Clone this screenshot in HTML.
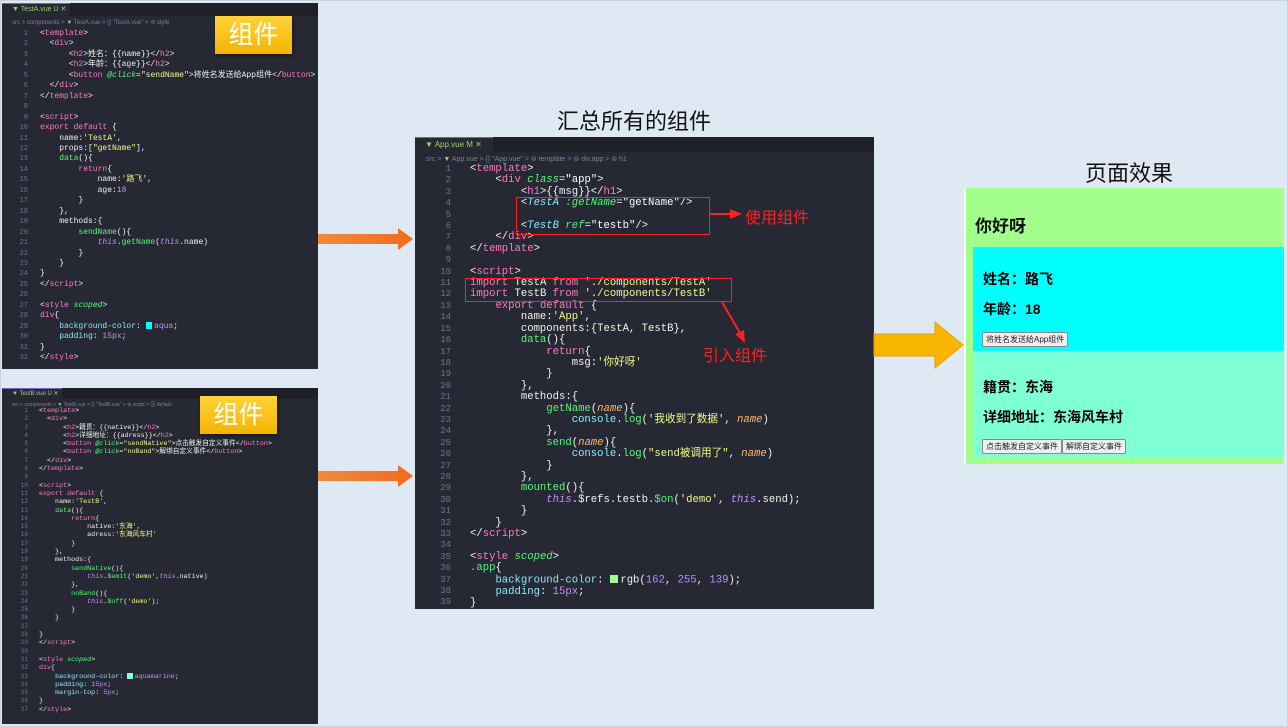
<!DOCTYPE html>
<html><head><meta charset="utf-8"><style>
body{margin:0;width:1288px;height:727px;overflow:hidden;background:#dfe9f4;font-family:"Liberation Sans","Noto Sans CJK SC",sans-serif;position:relative}
.frame{position:absolute;left:0;top:0;width:1286px;height:725px;border:1px solid #c8d4e0}
.panel{position:absolute;background:#262833;overflow:hidden}
.tabbar{position:absolute;left:0;top:0;right:0;background:#1e1f27}
.tab{position:absolute;left:0;top:0;background:#262833;color:#9ecf6b;border-top:1px solid #7a5fd0}
.crumb{position:absolute;color:#7c8199;white-space:pre}
pre{position:absolute;margin:0;font-family:"Liberation Mono","Noto Sans CJK SC",monospace;color:#f2f2ec;white-space:pre}
.ln{color:#6f7590;text-align:right}
.t{color:#ff79c6}.k{color:#ff79c6}.s{color:#f1fa8c}.f{color:#50fa7b}.a{color:#50fa7b;font-style:italic}.i{color:#bd93f9;font-style:italic}.n{color:#bd93f9}.p{color:#8be9fd}.c{color:#8be9fd;font-style:italic}
.badge{position:absolute;width:77px;height:38px;background:linear-gradient(#ffd33a,#f4b400);color:#fff;font-size:25px;text-align:center;line-height:38px;box-shadow:1px 2px 3px rgba(0,0,0,.4)}
.sw{display:inline-block;width:.8em;height:.8em;vertical-align:-1px;margin-right:2px}
.title{position:absolute;font-size:22px;color:#111}
.rbox{position:absolute;border:1.5px solid #ff2020}
.rtxt{position:absolute;color:#ff2020;font-size:16px}
.btn{display:inline-block;font-size:8px;border:1px solid #888;background:#efefef;padding:1px 3px;color:#222;border-radius:2px}
</style></head><body>
<div class="frame"></div>

<!-- Panel A -->
<div class="panel" style="left:2px;top:3px;width:316px;height:366px">
 <div class="tabbar" style="height:13px"></div>
 <div class="tab" style="width:58px;height:12px;font-size:7px;line-height:12px;padding-left:10px">▼ TestA.vue U ✕</div>
 <div class="crumb" style="left:10px;top:16px;font-size:6px">src &gt; components &gt; <span style="color:#9ecf6b">▼</span> TestA.vue &gt; {} "TestA.vue" &gt; ⊜ style</div>
<pre class="ln" style="left:4px;top:26px;width:22px;font-size:7px;line-height:10.45px">1
2
3
4
5
6
7
8
9
10
11
12
13
14
15
16
17
18
19
20
21
22
23
24
25
26
27
28
29
30
31
32</pre>
<pre style="left:38px;top:26px;font-size:8px;line-height:10.45px">&lt;<span class="t">template</span>&gt;
  &lt;<span class="t">div</span>&gt;
      &lt;<span class="t">h2</span>&gt;姓名：{{name}}&lt;/<span class="t">h2</span>&gt;
      &lt;<span class="t">h2</span>&gt;年龄：{{age}}&lt;/<span class="t">h2</span>&gt;
      &lt;<span class="t">button</span> <span class="a">@click</span>=<span class="s">"sendName"</span>&gt;将姓名发送给App组件&lt;/<span class="t">button</span>&gt;
  &lt;/<span class="t">div</span>&gt;
&lt;/<span class="t">template</span>&gt;

&lt;<span class="t">script</span>&gt;
<span class="k">export default</span> {
    name:<span class="s">'TestA'</span>,
    props:[<span class="s">"getName"</span>],
    <span class="f">data</span>(){
        <span class="k">return</span>{
            name:<span class="s">'路飞'</span>,
            age:<span class="n">18</span>
        }
    },
    methods:{
        <span class="f">sendName</span>(){
            <span class="i">this</span>.<span class="f">getName</span>(<span class="i">this</span>.name)
        }
    }
}
&lt;/<span class="t">script</span>&gt;

&lt;<span class="t">style</span> <span class="a">scoped</span>&gt;
<span class="t">div</span>{
    <span class="p">background-color</span>: <span class="sw" style="background:aqua"></span><span class="n">aqua</span>;
    <span class="p">padding</span>: <span class="n">15px</span>;
}
&lt;/<span class="t">style</span>&gt;</pre>
</div>
<div class="badge" style="left:215px;top:16px">组件</div>

<!-- Panel B -->
<div class="panel" style="left:2px;top:388px;width:316px;height:336px">
 <div class="tabbar" style="height:11px"></div>
 <div class="tab" style="width:50px;height:10px;font-size:6px;line-height:10px;padding-left:10px">▼ TestB.vue U ✕</div>
 <div class="crumb" style="left:10px;top:13px;font-size:5px">src &gt; components &gt; <span style="color:#9ecf6b">▼</span> TestB.vue &gt; {} "TestB.vue" &gt; ⊜ script &gt; ⊠ default</div>
<pre class="ln" style="left:4px;top:19px;width:22px;font-size:6px;line-height:8.3px">1
2
3
4
5
6
7
8
9
10
11
12
13
14
15
16
17
18
19
20
21
22
23
24
25
26
27
28
29
30
31
32
33
34
35
36
37</pre>
<pre style="left:37px;top:19px;font-size:6.7px;line-height:8.3px">&lt;<span class="t">template</span>&gt;
  &lt;<span class="t">div</span>&gt;
      &lt;<span class="t">h2</span>&gt;籍贯：{{native}}&lt;/<span class="t">h2</span>&gt;
      &lt;<span class="t">h2</span>&gt;详细地址：{{adress}}&lt;/<span class="t">h2</span>&gt;
      &lt;<span class="t">button</span> <span class="a">@click</span>=<span class="s">"sendNative"</span>&gt;点击触发自定义事件&lt;/<span class="t">button</span>&gt;
      &lt;<span class="t">button</span> <span class="a">@click</span>=<span class="s">"noBand"</span>&gt;解绑自定义事件&lt;/<span class="t">button</span>&gt;
  &lt;/<span class="t">div</span>&gt;
&lt;/<span class="t">template</span>&gt;

&lt;<span class="t">script</span>&gt;
<span class="k">export default</span> {
    name:<span class="s">'TestB'</span>,
    <span class="f">data</span>(){
        <span class="k">return</span>{
            native:<span class="s">'东海'</span>,
            adress:<span class="s">'东海风车村'</span>
        }
    },
    methods:{
        <span class="f">sendNative</span>(){
            <span class="i">this</span>.<span class="f">$emit</span>(<span class="s">'demo'</span>,<span class="i">this</span>.native)
        },
        <span class="f">noBand</span>(){
            <span class="i">this</span>.<span class="f">$off</span>(<span class="s">'demo'</span>);
        }
    }

}
&lt;/<span class="t">script</span>&gt;

&lt;<span class="t">style</span> <span class="a">scoped</span>&gt;
<span class="t">div</span>{
    <span class="p">background-color</span>: <span class="sw" style="background:aquamarine"></span><span class="n">aquamarine</span>;
    <span class="p">padding</span>: <span class="n">15px</span>;
    <span class="p">margin-top</span>: <span class="n">5px</span>;
}
&lt;/<span class="t">style</span>&gt;</pre>
</div>
<div class="badge" style="left:200px;top:396px">组件</div>

<div class="title" style="left:557px;top:104px">汇总所有的组件</div>

<!-- Center panel -->
<div class="panel" style="left:415px;top:137px;width:459px;height:472px">
 <div class="tabbar" style="height:15px"></div>
 <div class="tab" style="width:68px;height:14px;font-size:8px;line-height:14px;padding-left:10px">▼ App.vue M ✕</div>
 <div class="crumb" style="left:11px;top:18px;font-size:7px">src &gt; <span style="color:#9ecf6b">▼</span> App.vue &gt; {} "App.vue" &gt; ⊜ template &gt; ⊜ div.app &gt; ⊜ h1</div>
<pre class="ln" style="left:14px;top:27px;width:22px;font-size:9px;line-height:11.4px">1
2
3
4
5
6
7
8
9
10
11
12
13
14
15
16
17
18
19
20
21
22
23
24
25
26
27
28
29
30
31
32
33
34
35
36
37
38
39</pre>
<pre style="left:55px;top:27px;font-size:10.6px;line-height:11.4px">&lt;<span class="t">template</span>&gt;
    &lt;<span class="t">div</span> <span class="a">class</span>=<span style="color:#fff">"app"</span>&gt;
        &lt;<span class="t">h1</span>&gt;{{msg}}&lt;/<span class="t">h1</span>&gt;
        &lt;<span class="c">TestA</span> <span class="a">:getName</span>=<span style="color:#fff">"getName"</span>/&gt;

        &lt;<span class="c">TestB</span> <span class="a">ref</span>=<span style="color:#fff">"testb"</span>/&gt;
    &lt;/<span class="t">div</span>&gt;
&lt;/<span class="t">template</span>&gt;

&lt;<span class="t">script</span>&gt;
<span class="k">import</span> TestA <span class="k">from</span> <span class="s">'./components/TestA'</span>
<span class="k">import</span> TestB <span class="k">from</span> <span class="s">'./components/TestB'</span>
    <span class="k">export default</span> {
        name:<span class="s">'App'</span>,
        components:{TestA, TestB},
        <span class="f">data</span>(){
            <span class="k">return</span>{
                msg:<span class="s">'你好呀'</span>
            }
        },
        methods:{
            <span class="f">getName</span>(<span class="i" style="color:#ffb86c">name</span>){
                <span class="p">console</span>.<span class="f">log</span>(<span class="s">'我收到了数据'</span>, <span class="i" style="color:#ffb86c">name</span>)
            },
            <span class="f">send</span>(<span class="i" style="color:#ffb86c">name</span>){
                <span class="p">console</span>.<span class="f">log</span>(<span class="s">"send被调用了"</span>, <span class="i" style="color:#ffb86c">name</span>)
            }
        },
        <span class="f">mounted</span>(){
            <span class="i">this</span>.$refs.testb.<span class="f">$on</span>(<span class="s">'demo'</span>, <span class="i">this</span>.send);
        }
    }
&lt;/<span class="t">script</span>&gt;

&lt;<span class="t">style</span> <span class="a">scoped</span>&gt;
<span class="f">.app</span>{
    <span class="p">background-color</span>: <span class="sw" style="background:rgb(162,255,139)"></span>rgb(<span class="n">162</span>, <span class="n">255</span>, <span class="n">139</span>);
    <span class="p">padding</span>: <span class="n">15px</span>;
}</pre>
</div>
<div class="rbox" style="left:516px;top:197px;width:192px;height:36px"></div>
<div class="rbox" style="left:465px;top:278px;width:265px;height:22px"></div>
<div class="rtxt" style="left:745px;top:204px">使用组件</div>
<div class="rtxt" style="left:703px;top:342px">引入组件</div>

<div class="title" style="left:1085px;top:156px">页面效果</div>

<!-- Result -->
<div style="position:absolute;left:964px;top:188px;width:320px;height:276px;background:#a3ff8b;border-left:2px solid #fff;box-sizing:border-box">
 <div style="position:absolute;left:9px;top:24px;font-size:17px;font-weight:bold;color:#111">你好呀</div>
 <div style="position:absolute;left:7px;top:59px;right:0;height:104px;background:aqua">
  <div style="position:absolute;left:10px;top:22px;font-size:14px;font-weight:bold">姓名：路飞</div>
  <div style="position:absolute;left:10px;top:52px;font-size:14px;font-weight:bold">年龄：18</div>
  <div style="position:absolute;left:9px;top:82px"><span class="btn">将姓名发送给App组件</span></div>
 </div>
 <div style="position:absolute;left:7px;top:164px;right:0;height:105px;background:aquamarine">
  <div style="position:absolute;left:10px;top:25px;font-size:14px;font-weight:bold">籍贯：东海</div>
  <div style="position:absolute;left:10px;top:55px;font-size:14px;font-weight:bold">详细地址：东海风车村</div>
  <div style="position:absolute;left:9px;top:84px"><span class="btn">点击触发自定义事件</span><span class="btn">解绑自定义事件</span></div>
 </div>
</div>

<!-- arrows (on top) -->
<svg style="position:absolute;left:0;top:0" width="1288" height="727">
 <defs><linearGradient id="og" x1="0" x2="1"><stop offset="0" stop-color="#f08a3c"/><stop offset="1" stop-color="#f26b1d"/></linearGradient></defs>
 <polygon points="318,234 398,234 398,228 413,239 398,250 398,244 318,244" fill="url(#og)"/>
 <polygon points="318,471 398,471 398,465 413,476 398,487 398,481 318,481" fill="url(#og)"/>
 <polygon points="874,334 935,334 935,322 963,345 935,368 935,356 874,356" fill="#f8b600" stroke="#e0a000"/>
 <line x1="709" y1="214" x2="732" y2="214" stroke="#ff2020" stroke-width="2"/>
 <polygon points="730,209 742,214 730,219" fill="#ff2020"/>
 <line x1="722" y1="302" x2="740" y2="333" stroke="#ff2020" stroke-width="2"/>
 <polygon points="735,334 745,343 744,330" fill="#ff2020"/>
</svg>
</body></html>
